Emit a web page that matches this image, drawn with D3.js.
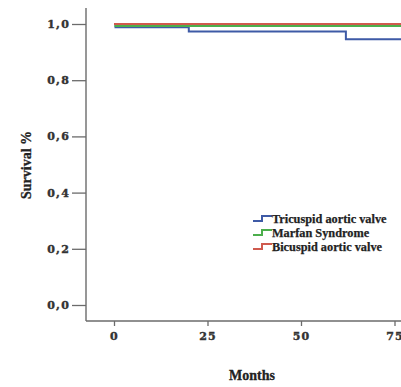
<!DOCTYPE html>
<html>
<head>
<meta charset="utf-8">
<script src="https://cdn.jsdelivr.net/npm/d3@7"></script>
<style>
  html, body { margin: 0; padding: 0; background: #fff; }
  svg { display: block; }
</style>
</head>
<body>
<svg id="chart" width="401" height="387"></svg>
<script>
// ---- data ----
const groups = ["Tricuspid aortic valve", "Marfan Syndrome", "Bicuspid aortic valve"];
const colors = ["#3e5aa6", "#4cae4c", "#cf5a4e"];
// step survival curves: [month, survival]
const tricuspidCurve = [[0, 1.0], [0.4, 0.988], [20, 0.973], [62, 0.946], [80, 0.946]];
const marfanCurve    = [[0, 1.0], [0.4, 0.993], [80, 0.993]];
const bicuspidCurve  = [[0, 1.0], [80, 1.0]];
const curves = [tricuspidCurve, marfanCurve, bicuspidCurve];
const xTicks = [0, 25, 50, 75];
const yTicks = [0, 0.2, 0.4, 0.6, 0.8, 1.0];

// ---- chart ----
const svg = d3.select("#chart");
const x = d3.scaleLinear().domain([0, 75]).range([114, 394.5]);
const y = d3.scaleLinear().domain([0, 1]).range([305, 24]);
const axisColor = "#6b6b6b";
const tickFont = "'DejaVu Serif', serif";

// y axis
const yAxis = svg.append("g").attr("transform", "translate(86,0)")
  .call(d3.axisLeft(y).tickValues(yTicks).tickSize(14).tickPadding(2)
    .tickFormat(d => d3.format(".1f")(d).replace(".", ",")));
yAxis.select(".domain").remove();
yAxis.selectAll(".tick line").attr("stroke", axisColor).attr("stroke-width", 1.3);
yAxis.selectAll(".tick text").attr("font-family", tickFont).attr("font-weight", "bold")
  .attr("font-size", 11).attr("letter-spacing", 1.2).attr("fill", "#333")
  .attr("stroke", "#333").attr("stroke-width", 0.4);
svg.append("line").attr("x1", 86).attr("x2", 86).attr("y1", 8).attr("y2", 321)
  .attr("stroke", axisColor).attr("stroke-width", 1.4);

// x axis
const xAxis = svg.append("g").attr("transform", "translate(0,321)")
  .call(d3.axisBottom(x).tickValues(xTicks).tickSize(5).tickPadding(6));
xAxis.select(".domain").remove();
xAxis.selectAll(".tick line").attr("stroke", axisColor).attr("stroke-width", 1.3);
xAxis.selectAll(".tick text").attr("font-family", tickFont).attr("font-weight", "bold")
  .attr("font-size", 11).attr("letter-spacing", 1.2).attr("fill", "#333")
  .attr("stroke", "#333").attr("stroke-width", 0.4);
svg.append("line").attr("x1", 86).attr("x2", 401).attr("y1", 321).attr("y2", 321)
  .attr("stroke", axisColor).attr("stroke-width", 1.4);

// axis titles
svg.append("text").attr("x", 252).attr("y", 380).attr("text-anchor", "middle")
  .attr("font-family", "'Liberation Serif', serif").attr("font-weight", "bold")
  .attr("font-size", 14).attr("fill", "#222").attr("stroke", "#222").attr("stroke-width", 0.3)
  .text("Months");
svg.append("text").attr("transform", "translate(31,165) rotate(-90)").attr("text-anchor", "middle")
  .attr("font-family", "'Liberation Serif', serif").attr("font-weight", "bold")
  .attr("font-size", 14).attr("fill", "#222").attr("stroke", "#222").attr("stroke-width", 0.3)
  .text("Survival %");

// curves
const line = d3.line().x(d => x(d[0])).y(d => y(d[1])).curve(d3.curveStepAfter);
curves.forEach((c, i) => {
  svg.append("path").datum(c).attr("d", line).attr("fill", "none")
    .attr("stroke", colors[i]).attr("stroke-width", 2);
});

// legend
const leg = svg.append("g");
groups.forEach((g, i) => {
  const by = 221 + i * 14;
  leg.append("path")
    .attr("d", `M253,${by} H262 V${by - 5} H272`)
    .attr("fill", "none").attr("stroke", colors[i]).attr("stroke-width", 2);
  leg.append("text").attr("x", 272).attr("y", by + 1.5)
    .attr("font-family", "'Liberation Serif', serif").attr("font-weight", "bold")
    .attr("font-size", 12.3).attr("fill", "#222").attr("stroke", "#222").attr("stroke-width", 0.25)
    .text(g);
});
</script>
</body>
</html>
